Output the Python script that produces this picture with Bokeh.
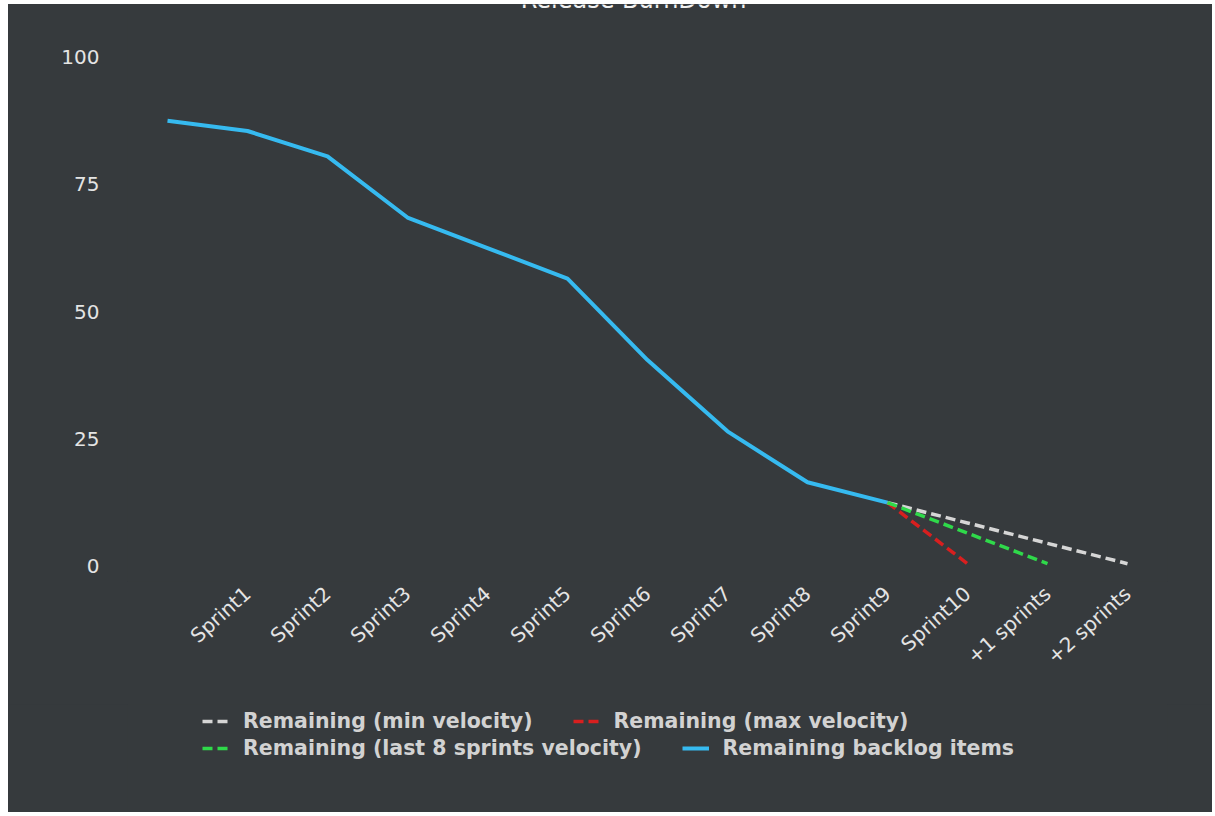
from bokeh.plotting import figure
from bokeh.layouts import column
from bokeh.models import Legend, LegendItem, FixedTicker, Range1d, Label
from bokeh.embed import file_html
from bokeh.resources import INLINE

# ---- data ----
categories = ["", "Sprint1", "Sprint2", "Sprint3", "Sprint4", "Sprint5", "Sprint6",
              "Sprint7", "Sprint8", "Sprint9", "Sprint10", "+1 sprints", "+2 sprints"]
remaining_backlog = [87.5, 85.5, 80.5, 68.5, 62.5, 56.5, 40.5, 26.5, 16.5, 12.5]
# projections start at Sprint9
min_velocity = [12.5, 8.5, 4.5, 0.5]
max_velocity = [12.5, 0.5]
last8_velocity = [12.5, 6.5, 0.5]
y_ticks = [0, 25, 50, 75, 100]
series_labels = ["Remaining (min velocity)", "Remaining (max velocity)",
                 "Remaining (last 8 sprints velocity)", "Remaining backlog items"]
series_colors = ["#d6d6d6", "#d81f1f", "#2fd94a", "#36baf0"]

BG = "#363a3d"
TICK_COLOR = "#e4e4e4"
FONT = "DejaVu Sans"
DASH = "10 5"

W = 1204
H1 = 700
H2 = 108

start = len(remaining_backlog) - 1
x_backlog = list(range(len(remaining_backlog)))
x_min = list(range(start, start + len(min_velocity)))
x_max = list(range(start, start + len(max_velocity)))
x_last8 = list(range(start, start + len(last8_velocity)))
series = [(x_min, min_velocity), (x_max, max_velocity), (x_last8, last8_velocity),
          (x_backlog, remaining_backlog)]
widths = [3.5, 3.5, 3.5, 4]
dashes = [DASH, DASH, DASH, "solid"]

p = figure(width=W, height=H1, output_backend="svg", toolbar_location=None,
           x_range=Range1d(-0.5, len(categories) - 0.5), y_range=Range1d(-3, 110.35),
           min_border_left=119, min_border_right=45, min_border_top=0,
           min_border_bottom=H1 - 577, background_fill_color=BG, border_fill_color=BG)
p.outline_line_color = None
p.grid.visible = False

# x axis
p.xaxis.ticker = FixedTicker(ticks=list(range(len(categories))))
p.xaxis.major_label_overrides = {i: c for i, c in enumerate(categories)}
p.xaxis.major_label_orientation = 0.73
p.xaxis.major_label_standoff = 9
# y axis
p.yaxis.ticker = FixedTicker(ticks=y_ticks)
p.yaxis.major_label_standoff = 28
for ax in (p.xaxis, p.yaxis):
    ax.axis_line_color = None
    ax.major_tick_line_color = None
    ax.minor_tick_line_color = None
    ax.major_tick_out = 0
    ax.major_tick_in = 0
    ax.major_label_text_font = FONT
    ax.major_label_text_font_size = "20px"
    ax.major_label_text_color = TICK_COLOR

# draw order: backlog first, then projections
for i in (3, 1, 0, 2):
    xs, ys = series[i]
    p.line(xs, ys, line_color=series_colors[i], line_width=widths[i], line_dash=dashes[i])

p.add_layout(Label(x=506, y=582, x_units="screen", y_units="screen",
                   text="Release BurnDown", text_align="center",
                   text_baseline="alphabetic", text_font=FONT,
                   text_font_size="24px", text_color="#f2f2f2"))

# ---- legend strip under the chart (same series; their lines fall outside its range) ----
p2 = figure(width=W, height=H2, output_backend="svg", toolbar_location=None,
            x_axis_location=None, y_axis_location=None, min_border=0,
            min_border_top=0, min_border_bottom=0,
            background_fill_color=BG, border_fill_color=BG,
            x_range=Range1d(0, 1), y_range=Range1d(-1001, -1000))
p2.outline_line_color = None
p2.grid.visible = False
lr = [p2.line(xs, ys, line_color=c, line_width=w, line_dash=d)
      for (xs, ys), c, w, d in zip(series, series_colors, widths, dashes)]


def add_legend(items, y):
    lg = Legend(items=items, location=(75, y), orientation="horizontal", spacing=40,
                glyph_width=27, glyph_height=20, label_standoff=14, label_height=20,
                padding=0, margin=0, border_line_color=None, background_fill_alpha=0,
                label_text_font=FONT, label_text_font_style="bold",
                label_text_font_size="20.5px", label_text_color="#d2d2d2")
    p2.add_layout(lg)


add_legend([LegendItem(label=series_labels[0], renderers=[lr[0]]),
            LegendItem(label=series_labels[1], renderers=[lr[1]])], 79)
add_legend([LegendItem(label=series_labels[2], renderers=[lr[2]]),
            LegendItem(label=series_labels[3], renderers=[lr[3]])], 52)

layout = column(p, p2, spacing=0, styles={"background-color": BG})
layout.margin = (4, 0, 0, 8)

open("out.html", "w").write(file_html(layout, INLINE))
